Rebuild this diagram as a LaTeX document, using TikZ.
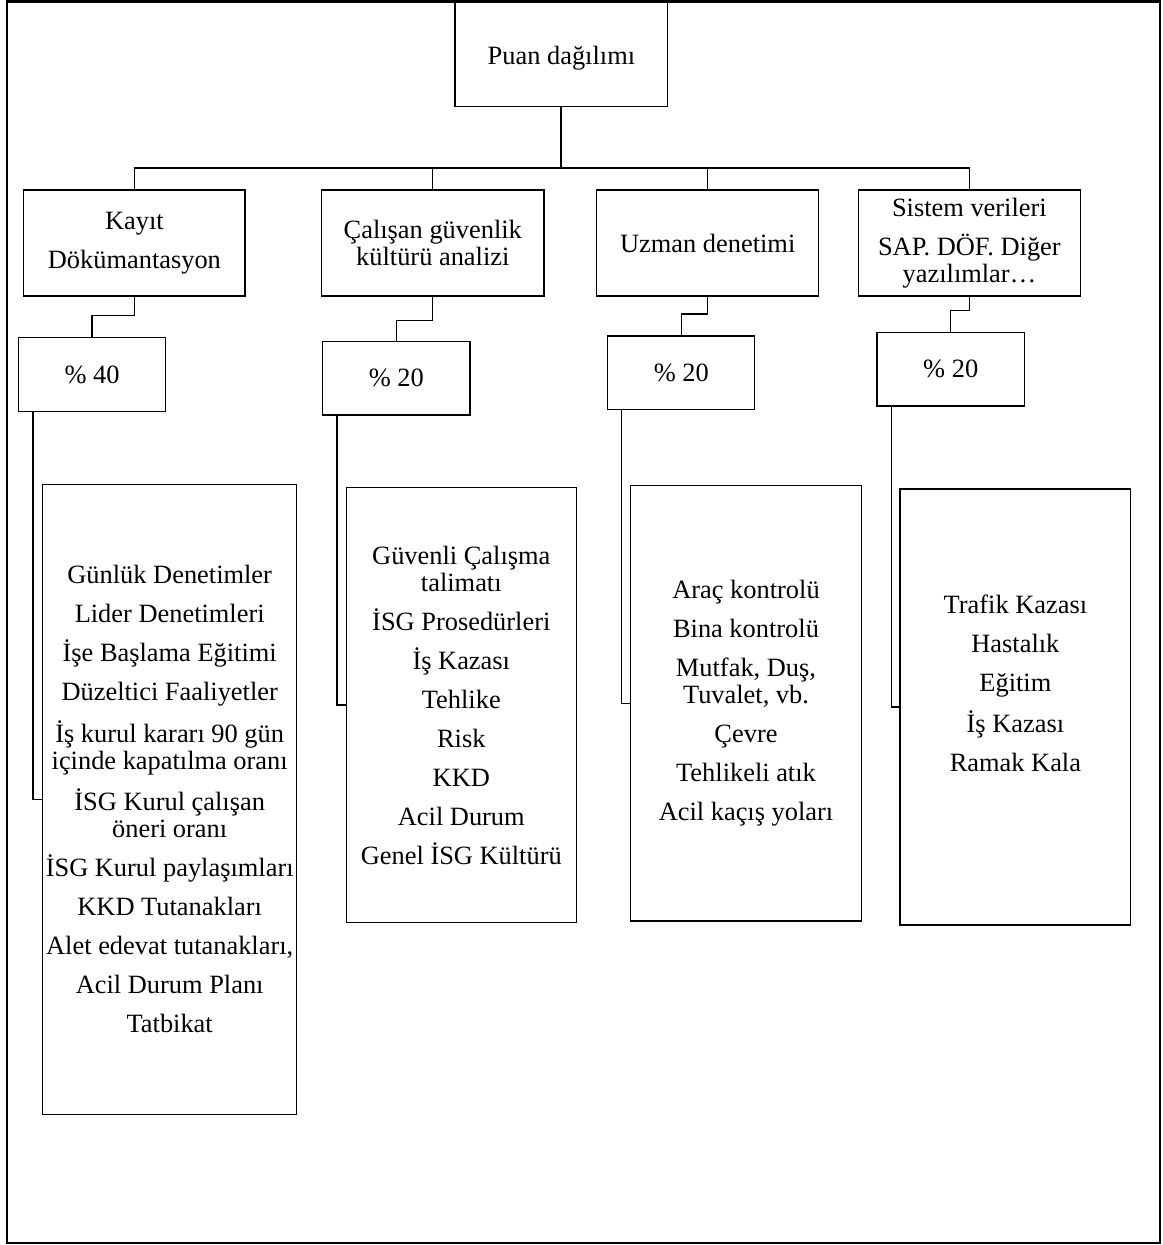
\documentclass[tikz,border=0pt]{standalone}
\usepackage{fontspec}
\setmainfont{Liberation Serif}
\begin{document}
\begin{tikzpicture}[x=0.5pt,y=-0.5pt,
  every node/.style={font=\fontsize{13.2}{13.5}\selectfont},
  box/.style={draw=black,line width=0.65pt,inner sep=0pt,align=center},
  conn/.style={draw=black,line width=0.65pt},
  mainconn/.style={draw=black,line width=1pt}]
\useasboundingbox (0,0) rectangle (1162,1245);
\draw[line width=1.25pt] (7,1.5) rectangle (1160,1243);

% top box
\node[box,minimum width=212.7*0.5pt,minimum height=105.2*0.5pt,text height=13.5pt] (puan) at (561.4,54.2) {Puan dağılımı};

% level 1
\node[box,minimum width=221.3*0.5pt,minimum height=106*0.5pt] (kayit) at (134.4,243) {Kayıt\\[6pt]Dökümantasyon};
\node[box,minimum width=222.5*0.5pt,minimum height=106*0.5pt] (calisan) at (432.8,243) {Çalışan güvenlik\\kültürü analizi};
\node[box,minimum width=222*0.5pt,minimum height=106*0.5pt] (uzman) at (707.7,243) {Uzman denetimi};
\node[box,minimum width=222*0.5pt,minimum height=106*0.5pt] (sistem) at (969.4,243) {Sistem verileri\\[6pt]SAP. DÖF. Diğer\\yazılımlar…};

% percentages
\node[box,minimum width=147.3*0.5pt,minimum height=74*0.5pt] (p1) at (92,374.7) {\% 40};
\node[box,minimum width=147.4*0.5pt,minimum height=73.3*0.5pt] (p2) at (396.3,378.3) {\% 20};
\node[box,minimum width=147*0.5pt,minimum height=73.3*0.5pt] (p3) at (681.3,372.7) {\% 20};
\node[box,minimum width=147.3*0.5pt,minimum height=73.7*0.5pt] (p4) at (950.7,369.2) {\% 20};

% detail boxes
\node[box,minimum width=253.8*0.5pt,minimum height=630*0.5pt] (d1) at (169.7,799.3) {Günlük Denetimler\\[6pt]Lider Denetimleri\\[6pt]İşe Başlama Eğitimi\\[6pt]Düzeltici Faaliyetler\\[6pt]İş kurul kararı 90 gün\\içinde kapatılma oranı\\[6pt]İSG Kurul çalışan\\öneri oranı\\[6pt]İSG Kurul paylaşımları\\[6pt]KKD Tutanakları\\[6pt]Alet edevat tutanakları,\\[6pt]Acil Durum Planı\\[6pt]Tatbikat};
\node[box,minimum width=230*0.5pt,minimum height=434.6*0.5pt] (d2) at (461.3,705) {Güvenli Çalışma\\talimatı\\[6pt]İSG Prosedürleri\\[6pt]İş Kazası\\[6pt]Tehlike\\[6pt]Risk\\[6pt]KKD\\[6pt]Acil Durum\\[6pt]Genel İSG Kültürü};
\node[box,minimum width=230.4*0.5pt,minimum height=435.7*0.5pt] (d3) at (746,703.2) {Araç kontrolü\\[6pt]Bina kontrolü\\[6pt]Mutfak, Duş,\\Tuvalet, vb.\\[6pt]Çevre\\[6pt]Tehlikeli atık\\[6pt]Acil kaçış yoları};
\node[box,minimum width=230.8*0.5pt,minimum height=436*0.5pt] (d4) at (1015.4,707) {Trafik Kazası\\[6pt]Hastalık\\[6pt]Eğitim\\[6pt]İş Kazası\\[6pt]Ramak Kala\\[6pt]\strut};

% connectors
\coordinate (bus) at (561.4,168);
\draw[mainconn] (puan.south) -- (bus);
\draw[conn] (kayit.north) |- (bus) -| (sistem.north);
\draw[conn] (calisan.north) -- (calisan.north |- bus);
\draw[conn] (uzman.north) -- (uzman.north |- bus);

\draw[conn] (kayit.south) -- ++(0,19) -| (p1.north);
\draw[conn] (calisan.south) -- ++(0,24) -| (p2.north);
\draw[conn] (uzman.south) -- ++(0,17.5) -| (p3.north);
\draw[conn] (sistem.south) -- ++(0,14) -| (p4.north);

\draw[conn] (p1.south west) ++(15.3,0) |- (d1.west);
\draw[conn] (p2.south west) ++(14.9,0) |- (d2.west);
\draw[conn] (p3.south west) ++(14.2,0) |- (d3.west);
\draw[conn] (p4.south west) ++(14.8,0) |- (d4.west);
\end{tikzpicture}
\end{document}
